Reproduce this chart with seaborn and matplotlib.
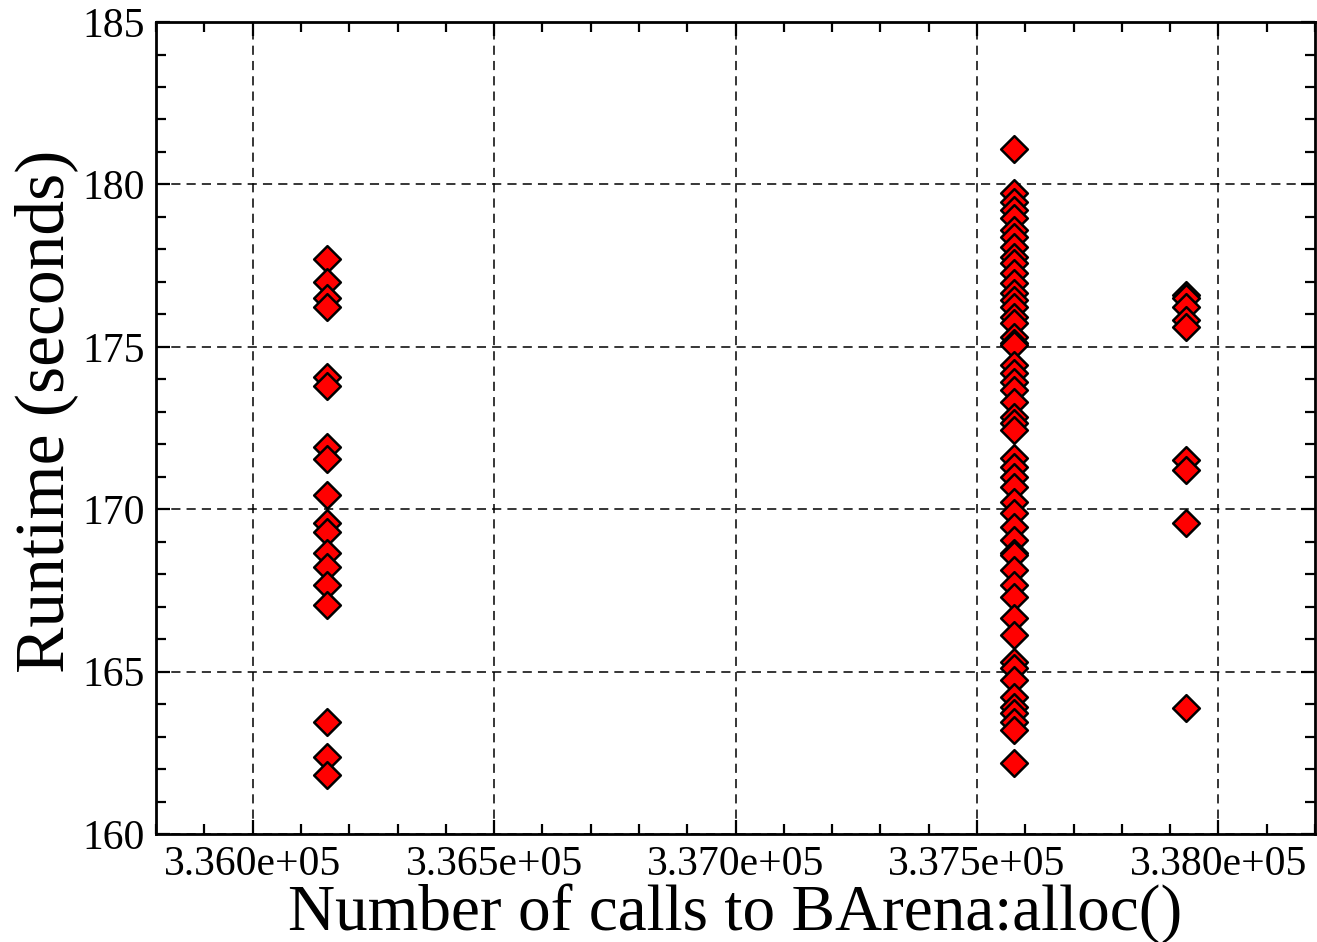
import matplotlib
matplotlib.use("Agg")
import matplotlib.pyplot as plt
import seaborn as sns
import pandas as pd
from matplotlib.ticker import MultipleLocator, FormatStrFormatter

# Data
calls_a = 336153
runtime_a = [177.70, 176.99, 176.50, 176.23, 174.07, 173.79, 171.91, 171.55,
             170.44, 169.58, 169.30, 168.65, 168.22, 167.67, 167.05, 163.45,
             162.37, 161.82]

calls_b = 337576
runtime_b = [181.09, 179.74, 179.46, 179.22, 178.98, 178.60, 178.38, 178.07,
             177.76, 177.58, 177.27, 176.96, 176.66, 176.44, 176.23, 175.92,
             175.73, 175.30, 175.12, 175.06, 174.44, 174.19, 173.92, 173.67,
             173.30, 172.84, 172.65, 172.44, 171.58, 171.30, 170.99, 170.68,
             170.22, 169.88, 169.45, 169.05, 168.65, 168.59, 168.13, 167.67,
             167.30, 166.65, 166.13, 165.30, 165.11, 164.74, 164.22, 163.91,
             163.73, 163.45, 163.20, 162.19]

calls_c = 337932
runtime_c = [176.59, 176.50, 176.23, 175.83, 175.61, 171.51, 171.21, 169.58,
             163.88]

df = pd.DataFrame({
    "calls": [calls_a] * len(runtime_a) + [calls_b] * len(runtime_b) + [calls_c] * len(runtime_c),
    "runtime": runtime_a + runtime_b + runtime_c,
})

sns.set_style("ticks")
plt.rcParams["font.family"] = ["Liberation Serif", "DejaVu Serif"]
plt.rcParams["text.color"] = "black"
plt.rcParams["axes.labelcolor"] = "black"
plt.rcParams["xtick.color"] = "black"
plt.rcParams["ytick.color"] = "black"

fig = plt.figure(figsize=(13.17, 9.42), dpi=100)
ax = fig.add_axes([0.1185, 0.1146, 0.88, 0.862])

sns.scatterplot(data=df, x="calls", y="runtime", ax=ax, marker="D", s=185,
                color="#ff0000", edgecolor="black", linewidth=1.8, zorder=3,
                legend=False)

ax.set_xlim(335800, 338200)
ax.set_ylim(160, 185)
ax.xaxis.set_major_locator(MultipleLocator(500))
ax.xaxis.set_minor_locator(MultipleLocator(100))
ax.yaxis.set_major_locator(MultipleLocator(5))
ax.yaxis.set_minor_locator(MultipleLocator(1))
ax.xaxis.set_major_formatter(FormatStrFormatter("%.3e"))

ax.grid(True, which="major", color="black", linestyle=(0, (6, 4)), linewidth=1.1, zorder=0)
ax.set_axisbelow(True)

ax.tick_params(which="both", direction="in", top=True, right=True, width=1.6,
               labelsize=30, pad=8, colors="black")
ax.tick_params(which="major", length=10)
ax.tick_params(which="minor", length=7)

for sp in ax.spines.values():
    sp.set_linewidth(2)
    sp.set_color("black")

ax.set_xlabel("Number of calls to BArena:alloc()", fontsize=47, labelpad=0, color="black")
ax.set_ylabel("Runtime (seconds)", fontsize=50, labelpad=3, color="black", y=0.52)

fig.savefig("out.png", dpi=100)
